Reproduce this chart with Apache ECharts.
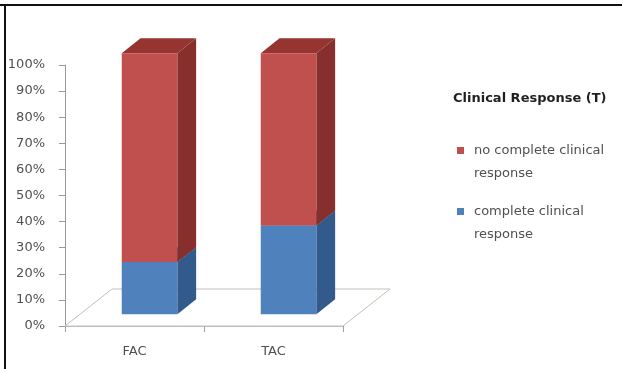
<!DOCTYPE html>
<html><head><meta charset="utf-8">
<script src="https://cdn.jsdelivr.net/npm/echarts@6/dist/echarts.min.js"></script>
<style>html,body{margin:0;padding:0;background:#fff}#c{width:622px;height:369px}</style>
</head><body><div id="c"></div>
<script>
const categories = ['FAC', 'TAC'];
const completeResponse = [20, 34];
const noCompleteResponse = [80, 66];
const nameComplete = 'complete clinical response';
const nameNoComplete = 'no complete clinical response';
const legendTitle = 'Clinical Response (T)';

const FONT = 'DejaVu Sans';
const DEPTH = [47, -37];
const FRONT_T = 0.32, BAR_T = 0.4;

function stackData(vals, base) {
  return vals.map((v, i) => [i, base[i], base[i] + v]);
}
const zeros = categories.map(() => 0);
const blueData = stackData(completeResponse, zeros);
const redData = stackData(noCompleteResponse, completeResponse);

function barRenderer(front, side, top) {
  return function (params, api) {
    const cat = api.value(0), v0 = api.value(1), v1 = api.value(2);
    const p0 = api.coord([cat, v0]), p1 = api.coord([cat, v1]);
    const band = api.size([1, 0])[0];
    const w = band * 0.4;
    const fx = DEPTH[0] * FRONT_T, fy = DEPTH[1] * FRONT_T;
    const bx = DEPTH[0] * BAR_T, by = DEPTH[1] * BAR_T;
    const xl = p0[0] + fx - w / 2, xr = xl + w;
    const yb = p0[1] + fy, yt = p1[1] + fy;
    return {
      type: 'group',
      children: [
        { type: 'polygon', shape: { points: [[xr, yb], [xr + bx, yb + by], [xr + bx, yt + by], [xr, yt]] }, style: { fill: side } },
        { type: 'polygon', shape: { points: [[xl, yt], [xr, yt], [xr + bx, yt + by], [xl + bx, yt + by]] }, style: { fill: top } },
        { type: 'rect', shape: { x: xl, y: yt, width: w, height: yb - yt }, style: { fill: front } }
      ]
    };
  };
}

function floorRenderer(params, api) {
  const cs = params.coordSys;
  const x0 = cs.x, x1 = cs.x + cs.width, y = cs.y + cs.height;
  return {
    type: 'polygon',
    shape: { points: [[x0, y], [x1, y], [x1 + DEPTH[0], y + DEPTH[1]], [x0 + DEPTH[0], y + DEPTH[1]]] },
    style: { fill: 'none', stroke: '#c4c0b8', lineWidth: 1 }
  };
}

const chart = echarts.init(document.getElementById('c'), null, { renderer: 'canvas' });
chart.setOption({
  animation: false,
  backgroundColor: '#fff',
  title: {
    text: legendTitle, left: 453, top: 92, padding: 0,
    textStyle: { fontFamily: FONT, fontSize: 13, fontWeight: 'bold', color: '#1f1f1f' }
  },
  legend: {
    data: [nameNoComplete, nameComplete],
    orient: 'vertical', left: 457, top: 116, padding: 0,
    itemWidth: 7, itemHeight: 7, itemGap: -8, icon: 'rect',
    formatter: function (n) { return ' \n' + n.replace(' clinical ', ' clinical\n'); },
    textStyle: { fontFamily: FONT, fontSize: 13, color: '#505050', lineHeight: 23, padding: [0, 0, 0, 5] }
  },
  grid: { left: 65, right: 279, top: 65, bottom: 43 },
  xAxis: {
    type: 'category', data: categories,
    axisLine: { lineStyle: { color: '#bdbdbd' } },
    axisTick: { show: true, length: 6, lineStyle: { color: '#a0a0a0' } },
    axisLabel: { margin: 19, fontFamily: FONT, fontSize: 13, color: '#505050' }
  },
  yAxis: {
    type: 'value', min: 0, max: 100, interval: 10,
    axisLine: { show: true, lineStyle: { color: '#9a9a9a' } },
    axisTick: { show: true, length: 6, lineStyle: { color: '#9a9a9a' } },
    splitLine: { show: false },
    axisLabel: { margin: 20, formatter: '{value}%', fontFamily: FONT, fontSize: 13, color: '#505050' }
  },
  series: [
    { type: 'custom', name: 'floor', data: [[0, 0]], renderItem: floorRenderer, z: 1, silent: true },
    { type: 'custom', name: nameComplete, data: blueData, renderItem: barRenderer('#4F81BD', '#325A8A', '#3E6AA0'),
      itemStyle: { color: '#4F81BD' }, encode: { x: 0, y: [1, 2] }, z: 3 },
    { type: 'custom', name: nameNoComplete, data: redData, renderItem: barRenderer('#C0504D', '#862F2D', '#953431'),
      itemStyle: { color: '#C0504D' }, encode: { x: 0, y: [1, 2] }, z: 3 }
  ],
  graphic: [
    { type: 'line', shape: { x1: 0, y1: 5, x2: 622, y2: 5 }, style: { stroke: '#111', lineWidth: 2 } },
    { type: 'line', shape: { x1: 5, y1: 4, x2: 5, y2: 369 }, style: { stroke: '#111', lineWidth: 2 } }
  ]
});
</script></body></html>
